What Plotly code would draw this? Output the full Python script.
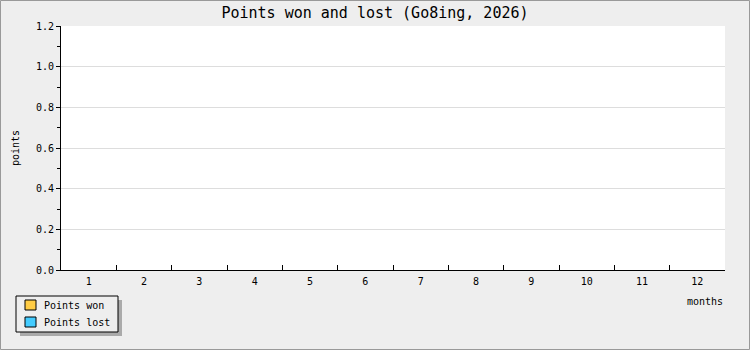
import plotly.graph_objects as go

months = ["1", "2", "3", "4", "5", "6", "7", "8", "9", "10", "11", "12"]
points_won = [0] * 12
points_lost = [0] * 12
series_names = ["Points won", "Points lost"]
series_colors = ["#ffcc44", "#44ccff"]

W, H = 750, 350
L, R, T, B = 61, 25, 26, 80
pw, ph = W - L - R, H - T - B

FONT = "DejaVu Sans Mono"

fig = go.Figure()
for name, vals, col in zip(series_names, [points_won, points_lost], series_colors):
    fig.add_trace(go.Bar(x=months, y=vals, name=name, showlegend=False,
                         marker=dict(color=col, line=dict(width=0))))

def px2x(p):
    return (p - L) / pw

def py2y(p):
    return 1 - (p - T) / ph

shapes = [
    # legend shadow
    dict(type="rect", xref="paper", yref="paper", x0=px2x(20), x1=px2x(122), y0=py2y(336), y1=py2y(300),
         fillcolor="#aaaaaa", line=dict(width=0)),
    # legend box
    dict(type="rect", xref="paper", yref="paper", x0=px2x(16), x1=px2x(118), y0=py2y(332), y1=py2y(296),
         fillcolor="#eeeeee", line=dict(color="black", width=1)),
    # outer border
    dict(type="rect", xref="paper", yref="paper", x0=px2x(0.5), x1=px2x(W - 0.5), y0=py2y(H - 0.5), y1=py2y(0.5),
         line=dict(color="#999999", width=1)),
]
annotations = [dict(text="months", xref="paper", yref="paper", x=px2x(725), y=py2y(301),
                    xanchor="right", yanchor="middle", showarrow=False,
                    font=dict(size=10, family=FONT)),
               dict(text="points", xref="paper", yref="paper", x=px2x(15), y=py2y(148),
                    xanchor="center", yanchor="middle", textangle=-90, showarrow=False,
                    font=dict(size=10, family=FONT))]
for i, (name, col) in enumerate(zip(series_names, series_colors)):
    cy = 305 + i * 17
    shapes.append(dict(type="rect", xref="paper", yref="paper", x0=px2x(25), x1=px2x(36),
                       y0=py2y(cy + 5), y1=py2y(cy - 5), fillcolor=col, line=dict(color="black", width=1)))
    annotations.append(dict(text=name, xref="paper", yref="paper", x=px2x(42), y=py2y(cy),
                            xanchor="left", yanchor="middle", showarrow=False,
                            font=dict(size=10, family=FONT)))

fig.update_layout(
    width=W, height=H,
    margin=dict(l=L, r=R, t=T, b=B, autoexpand=False),
    paper_bgcolor="#eeeeee", plot_bgcolor="white",
    font=dict(family=FONT, size=10, color="black"),
    title=dict(text="Points won and lost (Go8ing, 2026)", x=0.5, xanchor="center",
               y=1 - 13 / H, yanchor="middle", font=dict(size=15, family=FONT)),
    barmode="group",
    showlegend=False,
    xaxis=dict(type="category", showline=True, linecolor="black", linewidth=1,
               ticks="inside", ticklen=5, tickcolor="black", tickson="boundaries",
               showgrid=False, automargin=False, fixedrange=True, ticklabelstandoff=2),
    yaxis=dict(range=[0, 1.2], dtick=0.2, tickformat=".1f", showline=True, linecolor="black",
               linewidth=1, ticks="outside", ticklen=4, tickcolor="black",
               gridcolor="#dddddd", zeroline=False, automargin=False,
               minor=dict(dtick=0.1, ticks="outside", ticklen=3, tickcolor="black", showgrid=False)),
    shapes=shapes,
    annotations=annotations,
)

fig.write_html("out.html")
